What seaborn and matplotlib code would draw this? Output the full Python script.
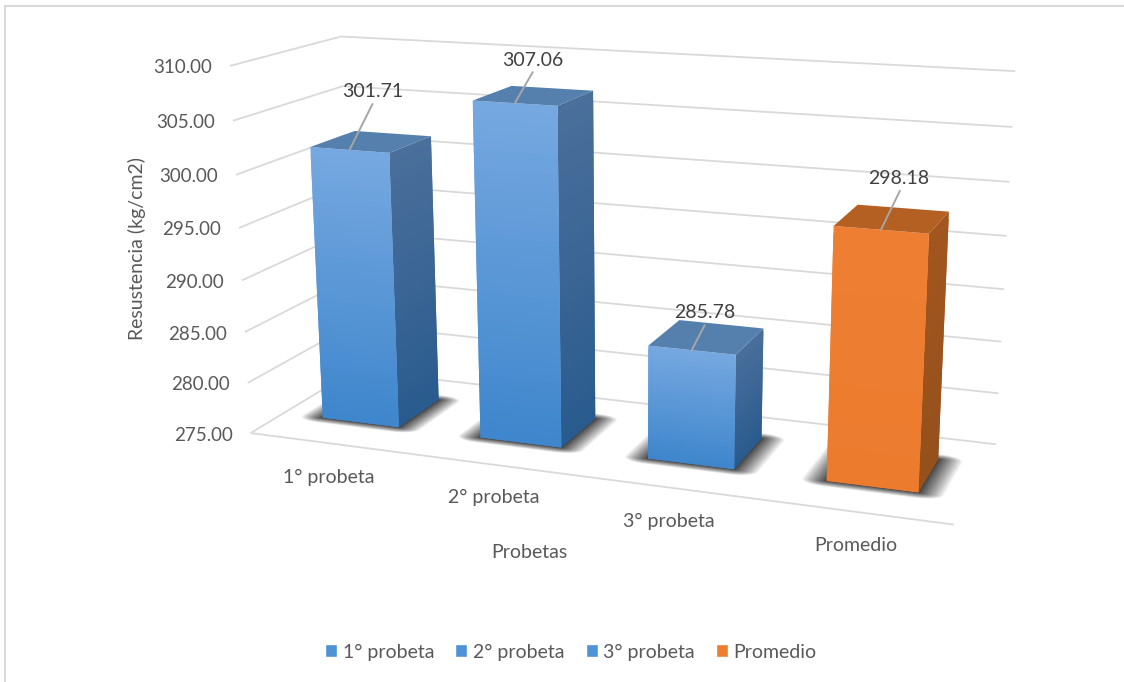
import numpy as np
import matplotlib
matplotlib.use("Agg")
import matplotlib.pyplot as plt
import seaborn as sns
from matplotlib.patches import Patch
from matplotlib.lines import Line2D
from mpl_toolkits.mplot3d.art3d import Poly3DCollection, Line3DCollection

# Chart data
categories = ["1° probeta", "2° probeta", "3° probeta", "Promedio"]
resistencia = [301.71, 307.06, 285.78, 298.18]
value_ticks = [275, 280, 285, 290, 295, 300, 305, 310]
leader_offsets = [(23, 46), (18, 31), (13, 25), (19, 39)]
label_offsets = [(23, 58), (18, 43), (13, 38), (18, 51)]
category_offsets = [(0, -34), (0, -33), (0, -34), (0, -34)]

BLUE_STOPS = {"front": ["#75A8E0", "#3F86CC"], "side": ["#4A6F9B", "#2A5B8E"], "top": "#5580AE"}
ORANGE_STOPS = {"front": ["#EE7F32", "#EC7B2E"], "side": ["#A3561F", "#95501B"], "top": "#B56023"}
LEGEND_BLUE = "#4E93D6"
LEGEND_ORANGE = "#ED7D31"

BAR_WIDTH = 0.49
BAR_DEPTH = (0.30, 0.72)
BASE = value_ticks[0]
TOP = value_ticks[-1]
N_CAT = len(categories)
N_STRIPS = 36

sns.set_theme(style="white")
plt.rcParams["font.family"] = ["Lato", "DejaVu Sans"]
TEXT = "#595959"
GRID = "#D9D9D9"

W, H = 1124, 682
fig = plt.figure(figsize=(W / 100, H / 100), dpi=100, facecolor="white")
# A square 3D axes wide enough to hold the whole scene
ax = fig.add_axes([0, -(W / H - 1) / 2, 1, W / H], projection="3d")
ax.set_axis_off()
ax.patch.set_alpha(0)
ax.computed_zorder = False

# Camera calibration: scene corners (category, depth, value) and where they sit on the canvas
cal_world = np.array([
    (0, 0, 275), (4, 0, 275), (4, 1, 275), (0, 1, 275),
    (0, 1, 310), (4, 1, 310), (0, 0, 310),
    (4, 1, 305), (4, 1, 280), (0, 0, 305), (0, 0, 280), (0, 0, 300),
    (4, 1, 300), (4, 1, 295),
], dtype=float)
cal_px = np.array([
    (251, 432), (954, 525), (996, 444), (355, 371),
    (341, 36), (1015, 71), (230, 66),
    (1012, 127), (998, 393), (233, 121), (247, 383), (236, 175),
    (1010, 182), (1007, 236),
], dtype=float)


def solve_camera(world, px):
    """Direct linear transform from scene coordinates to canvas pixels."""
    scale = np.array([
        [1 / N_CAT, 0, 0, 0],
        [0, 1, 0, 0],
        [0, 0, 1 / (TOP - BASE), -BASE / (TOP - BASE)],
        [0, 0, 0, 1],
    ])
    hw = np.c_[world, np.ones(len(world))]
    n = (scale @ hw.T).T
    rows = []
    for (X, Y, Z, _), (u, v) in zip(n, px):
        rows.append([X, Y, Z, 1, 0, 0, 0, 0, -u * X, -u * Y, -u * Z, -u])
        rows.append([0, 0, 0, 0, X, Y, Z, 1, -v * X, -v * Y, -v * Z, -v])
    p = np.linalg.svd(np.array(rows))[2][-1].reshape(3, 4)
    return p @ scale


CAMERA = solve_camera(cal_world, cal_px)


def to_canvas(x, y, z):
    u, v, w = CAMERA @ np.array([x, y, z, 1.0])
    return u / w, H - v / w


def scene_projection():
    """Projection used by the 3D axes: camera, then canvas pixels to axes view coordinates."""
    flip = np.array([[1, 0, 0], [0, -1, H], [0, 0, 1]], dtype=float)
    view = ax.transData.inverted().get_matrix() @ flip @ CAMERA
    return np.vstack([view[0], view[1], [0, 1, 0, 0], view[2]])


ax.get_proj = scene_projection


def add_face(poly, color, zorder, alpha=None):
    coll = Poly3DCollection([poly], facecolors=[color], edgecolors="none", linewidths=0, alpha=alpha, zorder=zorder)
    coll.set_clip_on(False)
    ax.add_collection3d(coll)


def soft_footprint(x0, x1, y0, y1, rx, ry):
    """Floor rectangle grown by (rx, ry) with elliptical corners."""
    pts = []
    corners = [(x1, y1, 0), (x0, y1, 90), (x0, y0, 180), (x1, y0, 270)]
    for cx, cy, start in corners:
        for a in np.radians(np.arange(start, start + 91, 15)):
            pts.append((cx + rx * np.cos(a), cy + ry * np.sin(a), BASE))
    return pts


# Wall and floor gridlines
grid_segments = [[(0, 0, BASE), (N_CAT, 0, BASE)]]
for tick in value_ticks:
    grid_segments.append([(0, 0, tick), (0, 1, tick)])
    grid_segments.append([(0, 1, tick), (N_CAT, 1, tick)])
grid = Line3DCollection(grid_segments, colors=GRID, linewidths=1.3, zorder=1)
grid.set_clip_on(False)
ax.add_collection3d(grid)

# Bars with their soft floor shadows
y0, y1 = BAR_DEPTH
for i, value in enumerate(resistencia):
    stops = ORANGE_STOPS if categories[i] == "Promedio" else BLUE_STOPS
    x0, x1 = i + 0.5 - BAR_WIDTH / 2, i + 0.5 + BAR_WIDTH / 2
    order = 10 + i * 10

    # Layers bunch up near the bar, leaving a dark core and a faint tail
    for m in 0.13 * np.linspace(1, 0, 20) ** 1.5:
        add_face(soft_footprint(x0, x1, y0, y1, m, m * 0.5), "#000000", order, alpha=0.065)

    # Each strip overlaps the next one so neighbouring shades leave no seams
    levels = np.linspace(value, BASE, N_STRIPS + 1)
    front_cols = sns.blend_palette(stops["front"], N_STRIPS)
    side_cols = sns.blend_palette(stops["side"], N_STRIPS)
    for j in range(N_STRIPS):
        a, b = levels[j], levels[min(j + 2, N_STRIPS)]
        add_face([(x1, y0, a), (x1, y1, a), (x1, y1, b), (x1, y0, b)], side_cols[j], order + 1 + j * 0.01)
        add_face([(x0, y0, a), (x1, y0, a), (x1, y0, b), (x0, y0, b)], front_cols[j], order + 2 + j * 0.01)
    add_face([(x0, y0, value), (x1, y0, value), (x1, y1, value), (x0, y1, value)], stops["top"], order + 3)

# Value labels with their leader lines
for i, value in enumerate(resistencia):
    start = to_canvas(i + 0.5, BAR_DEPTH[0], value)
    ax.annotate("", xy=start, xycoords="figure pixels", xytext=leader_offsets[i], textcoords="offset pixels",
                arrowprops=dict(arrowstyle="-", color="#A6A6A6", lw=1.4, shrinkA=0, shrinkB=0), zorder=70)
    ax.annotate(f"{value:.2f}", xy=start, xycoords="figure pixels", xytext=label_offsets[i],
                textcoords="offset pixels", ha="center", va="center", color="#404040", fontsize=14, zorder=71)

# Value axis labels
for tick in value_ticks:
    ax.annotate(f"{tick:.2f}", xy=to_canvas(0, 0, tick), xycoords="figure pixels", xytext=(-18, -2),
                textcoords="offset pixels", ha="right", va="center", color=TEXT, fontsize=13.5, zorder=71)

# Category labels along the front edge of the floor
for i, name in enumerate(categories):
    ax.annotate(name, xy=to_canvas(i + 0.5, 0, BASE), xycoords="figure pixels", xytext=category_offsets[i],
                textcoords="offset pixels", ha="center", va="center", color=TEXT, fontsize=14, zorder=71)

# Axis titles
fig.text(137 / W, 1 - 249 / H, "Resustencia (kg/cm2)", rotation=90, ha="center", va="center", color=TEXT, fontsize=14)
fig.text(529 / W, 1 - 553 / H, "Probetas", ha="center", va="center", color=TEXT, fontsize=14)

# Legend
handles = [Patch(facecolor=LEGEND_ORANGE if c == "Promedio" else LEGEND_BLUE, label=c) for c in categories]
fig.legend(handles=handles, loc="center", bbox_to_anchor=(571 / W, 1 - 652 / H), ncol=4, frameon=False,
           fontsize=14, labelcolor=TEXT, handlelength=0.62, handleheight=0.62, handletextpad=0.3, columnspacing=1.07)

# Chart frame along the top and left
fig.add_artist(Line2D([5 / W, 1], [1 - 6 / H, 1 - 6 / H], color=GRID, lw=1.5))
fig.add_artist(Line2D([5 / W, 5 / W], [1 - 6 / H, 0], color=GRID, lw=1.5))

fig.savefig("out.png", dpi=100)
